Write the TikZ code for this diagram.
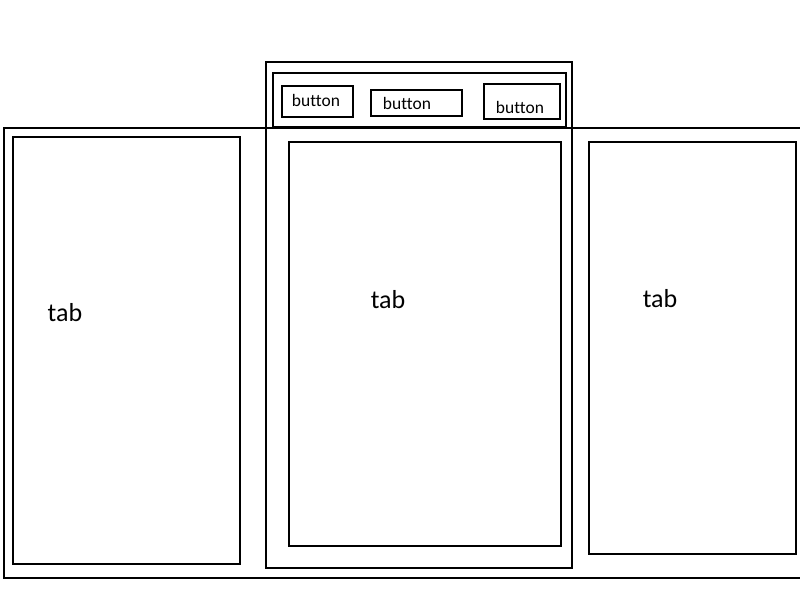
\documentclass[tikz,border=0pt]{standalone}
\usepackage{fontspec}
\setmainfont[Ligatures=NoCommon]{Carlito}
\usetikzlibrary{positioning}

\begin{document}
\begin{tikzpicture}[
  x=1pt, y=-1pt,
  line width=2pt,
  box/.style={draw, anchor=north west, inner sep=0pt, outer sep=0pt},
  tablbl/.style={font=\fontsize{26}{28}\selectfont, inner sep=0pt},
  btnlbl/.style={font=\fontsize{17.5}{19}\selectfont, inner sep=0pt},
]
\useasboundingbox (0,0) rectangle (800,600);
\clip (0,0) rectangle (800,600);

% outer frame, running off the right edge
\node[box, minimum width=806pt, minimum height=450pt] (frame) at (4,128) {};

% middle column with its toolbar
\node[box, minimum width=306pt, minimum height=506pt] (mid) at (266,62) {};
\node[box, minimum width=293pt, minimum height=54pt] (bar) at (273,73) {};
\node[box, minimum width=71pt, minimum height=31pt] (b1) at (282,86) {};
\node[box, minimum width=91pt, minimum height=26pt] (b2) at (371,90) {};
\node[box, minimum width=76pt, minimum height=35pt] (b3) at (484,84) {};
\node[btnlbl] (b1lbl) at (316,100) {button};
\node[btnlbl] (b2lbl) at (407,103) {button};
\node[btnlbl] (b3lbl) at (520,107) {button};

% tabs
\node[box, minimum width=227pt, minimum height=427pt] (tabL) at (13,137) {};
\node[box, minimum width=272pt, minimum height=404pt] (tabM) at (289,142) {};
\node[box, minimum width=207pt, minimum height=412pt] (tabR) at (589,142) {};
\node[tablbl] (tabLlbl) at (65,313) {tab};
\node[tablbl] (tabMlbl) at (388,300) {tab};
\node[tablbl] (tabRlbl) at (660,299) {tab};
\end{tikzpicture}
\end{document}
